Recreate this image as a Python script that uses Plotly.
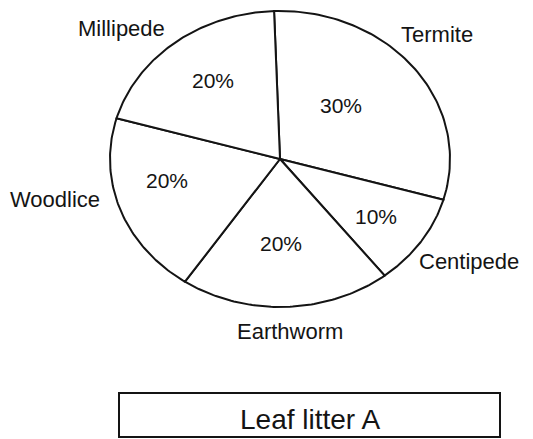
import numpy as np
import plotly.graph_objects as go

# Invertebrate share in leaf litter A, listed clockwise from the top
categories = ["Termite", "Centipede", "Earthworm", "Woodlice", "Millipede"]
values = [30, 10, 20, 20, 20]
title_text = "Leaf litter A"

W, H = 533, 439
cx, cy = 280, 159          # pie centre (axis units = pixels)
rx, ry = 170, 148          # elliptical pie radii
start_deg = -2             # first boundary, clockwise from 12 o'clock
ink = "#141414"
font = "Liberation Sans, Arial, sans-serif"

# Label positions
pct_pos = [(341, 105), (376, 216), (281, 243), (167, 180), (213, 80)]
name_pos = [(437, 34), (469, 261), (290, 331), (55, 199), (121, 28)]

fig = go.Figure()

total = sum(values)
angle = start_deg
for cat, v in zip(categories, values):
    span = 360.0 * v / total
    th = np.radians(np.linspace(angle, angle + span, 80))
    xs = np.concatenate([[cx], cx + rx * np.sin(th), [cx]])
    ys = np.concatenate([[cy], cy - ry * np.cos(th), [cy]])
    fig.add_trace(go.Scatter(
        x=xs, y=ys, mode="lines", fill="toself", fillcolor="white",
        line=dict(color=ink, width=2), name=cat, hoverinfo="name",
        showlegend=False,
    ))
    angle += span

annotations = []
for (px, py), v in zip(pct_pos, values):
    annotations.append(dict(x=px, y=py, text=f"{v}%", showarrow=False,
                            xref="x", yref="y",
                            font=dict(family=font, size=21, color=ink)))
for (px, py), cat in zip(name_pos, categories):
    annotations.append(dict(x=px, y=py, text=cat, showarrow=False,
                            xref="x", yref="y",
                            font=dict(family=font, size=22, color=ink)))
annotations.append(dict(x=310, y=419, text=title_text, showarrow=False,
                        xref="x", yref="y",
                        font=dict(family=font, size=28, color=ink)))

fig.update_layout(
    width=W, height=H,
    margin=dict(l=0, r=0, t=0, b=0),
    paper_bgcolor="white", plot_bgcolor="white",
    xaxis=dict(range=[0, W], visible=False, fixedrange=True),
    yaxis=dict(range=[H, 0], visible=False, fixedrange=True),
    annotations=annotations,
    shapes=[dict(type="rect", xref="x", yref="y", x0=119, x1=500, y0=393, y1=437,
                 line=dict(color=ink, width=2), fillcolor="rgba(0,0,0,0)")],
)

fig.write_html("out.html")
